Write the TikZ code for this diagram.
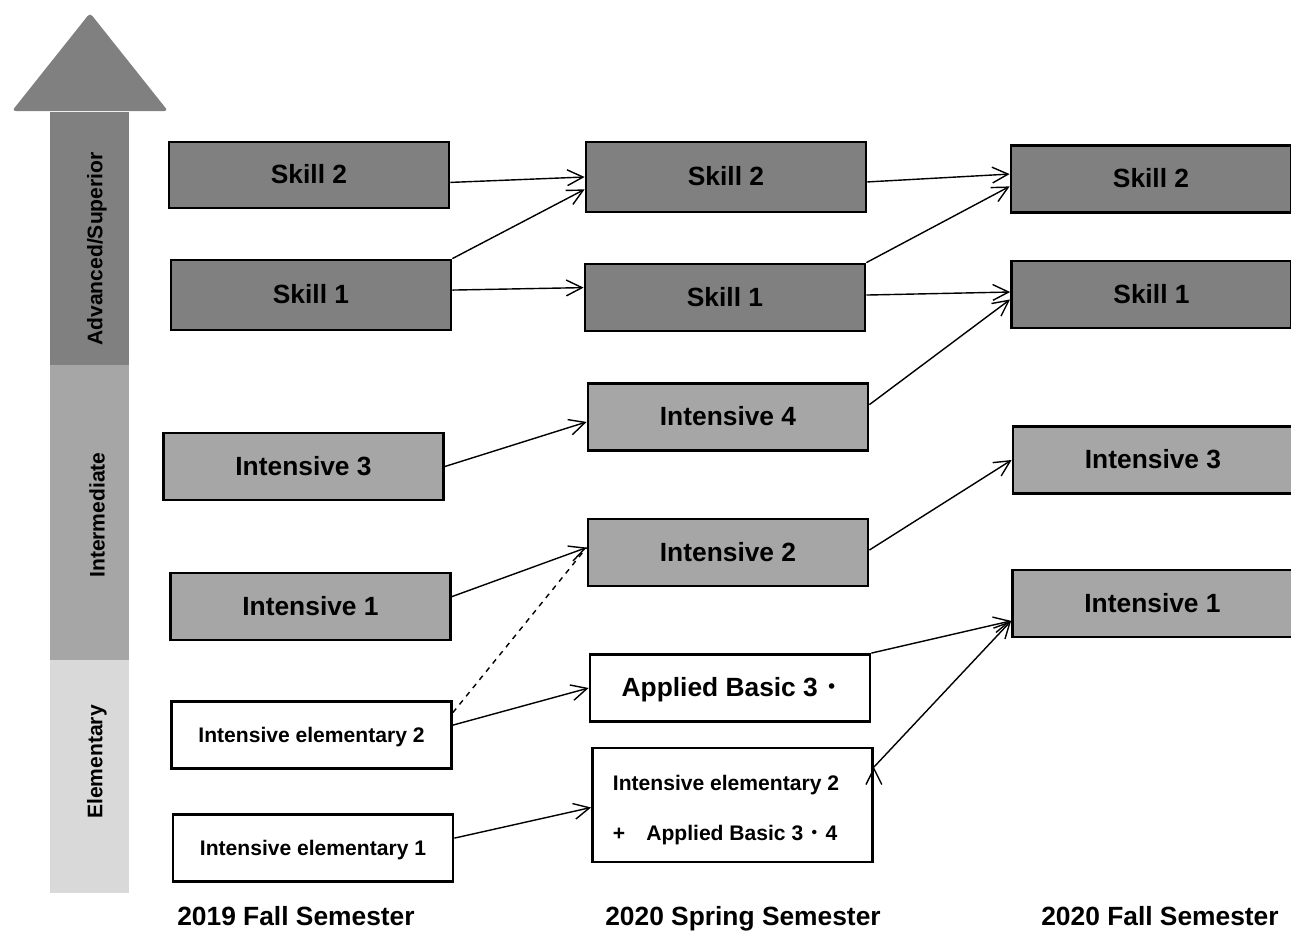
\documentclass[tikz,border=0pt]{standalone}
\usepackage{fontspec}
\setmainfont{Liberation Sans}
\newfontfamily\cjk{Noto Sans CJK JP}
\usetikzlibrary{arrows.meta}
\definecolor{advgray}{HTML}{808080}
\definecolor{midgray}{HTML}{A6A6A6}
\definecolor{elemgray}{HTML}{D9D9D9}
\tikzset{
  course/.style={draw, line width=1.6pt, minimum width=5.6cm, minimum height=1.34cm,
                 inner sep=0pt, text height=10.7pt, text depth=1pt,
                 font=\bfseries\fontsize{15}{18}\selectfont},
  skill/.style={course, fill=advgray},
  inten/.style={course, fill=midgray},
  elem/.style={course, fill=white, text height=8.6pt, text depth=0.6pt,
               font=\bfseries\fontsize{12}{14}\selectfont},
  link/.style={-{Straight Barb[length=9pt,width=9pt]}, line width=0.8pt},
  term/.style={anchor=base, font=\bfseries\fontsize{15}{18}\selectfont},
  level/.style={rotate=90, font=\bfseries\fontsize{12}{14}\selectfont}
}
\begin{document}
\begin{tikzpicture}[x=0.02cm, y=-0.02cm]
      \useasboundingbox (0, 0) rectangle (1291, 933);
      % level bar
      \fill [advgray, rounded corners=2pt] (12, 111) -- (90, 13) -- (168, 111) -- cycle;
      \fill [advgray]  (50, 112) rectangle (129, 365);
      \fill [midgray]  (50, 365) rectangle (129, 660);
      \fill [elemgray] (50, 660) rectangle (129, 893);
      \node [level] (adv) at (97, 249) {Advanced/Superior};
      \node [level] (mid) at (97, 515) {Intermediate};
      \node [level] (ele) at (97, 762) {Elementary};
      % 2019 fall
      \node [skill] (s2a) at (309, 175)   [minimum height=1.32cm] {Skill 2};
      \node [skill] (s1a) at (311, 295)   [minimum height=1.4cm] {Skill 1};
      \node [inten] (i3a) at (303.5, 466.5) {Intensive 3};
      \node [inten] (i1a) at (310.5, 606.5) {Intensive 1};
      \node [elem]  (e2a) at (311.5, 735) {Intensive elementary 2};
      \node [elem]  (e1a) at (313, 848)   {Intensive elementary 1};
      % 2020 spring
      \node [skill] (s2b) at (726, 177)   [minimum height=1.4cm] {Skill 2};
      \node [skill] (s1b) at (725, 297.5) {Skill 1};
      \node [inten] (i4b) at (728, 417)   {Intensive 4};
      \node [inten] (i2b) at (728, 552.5) {Intensive 2};
      \node [course, fill=white] (apb) at (730, 688) {Applied Basic 3 {\cjk ･}};
      \node [elem, minimum height=2.28cm] (ieb) at (732.5, 805) {};
      \node [align=left, inner sep=0pt, font=\bfseries\fontsize{12}{14}\selectfont]
            (iebtext) at (726, 810) {Intensive elementary 2\\[14pt]+\quad Applied Basic 3 {\cjk ･} 4};
      % 2020 fall
      \node [skill] (s2c) at (1151, 179)    {Skill 2};
      \node [skill] (s1c) at (1151.5, 294.5) {Skill 1};
      \node [inten] (i3c) at (1153, 460)    {Intensive 3};
      \node [inten] (i1c) at (1152.5, 603.5) {Intensive 1};
      % terms
      \node [term] (t1) at (296, 925)  {2019 Fall Semester};
      \node [term] (t2) at (743, 925)  {2020 Spring Semester};
      \node [term] (t3) at (1160, 925) {2020 Fall Semester};
      % connections
      \draw [link] (s2a.-3) edge (s2b.west)
                   (s1a.north east) edge (s2b.185)
                   (s1a.2) edge (s1b.176)
                   (i3a.east) edge (i4b.182)
                   (i1a.4) edge (i2b.178)
                   (e2a.4.5) edge (apb.west)
                   (e1a.4) edge (ieb.181)
                   (s2b.-2) edge (s2c.178)
                   (s1b.north east) edge (s2c.183)
                   (s1b.1) edge (s1c.179)
                   (i4b.5) edge (s1c.182)
                   (i2b.1) edge (i3c.west)
                   (apb.north east) edge (i1c.187)
                   (ieb.15) edge (i1c.187);
      \draw [line width=0.8pt, dashed] (e2a.9) -- (i2b.178);
\end{tikzpicture}
\end{document}
